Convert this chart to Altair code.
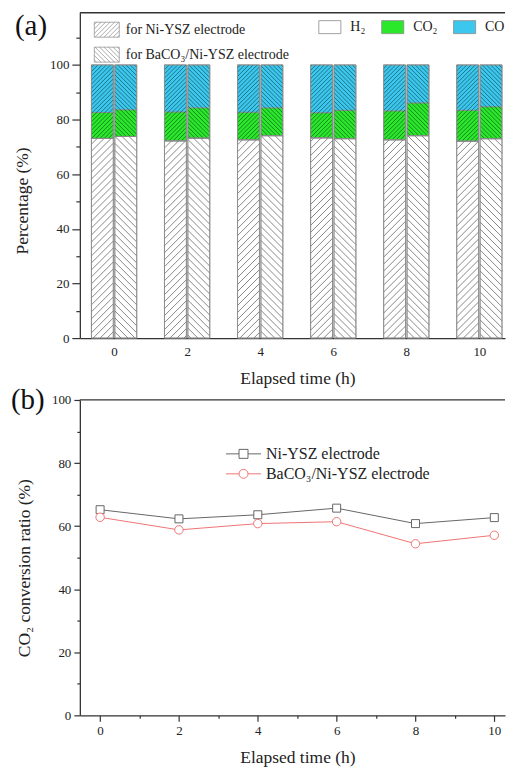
import altair as alt
import pandas as pd
import numpy as np
import math

# ---------------- data ----------------
times = [0, 2, 4, 6, 8, 10]
sides = ["for Ni-YSZ electrode", "for BaCO₃/Ni-YSZ electrode"]
components = ["H₂", "CO₂", "CO"]

ni_h2 = [73.1, 72.2, 72.6, 73.3, 72.6, 72.1]
ni_co2 = [9.5, 10.6, 10.1, 9.2, 10.6, 11.3]
ni_co = [17.4, 17.2, 17.3, 17.5, 16.8, 16.6]

ba_h2 = [73.8, 73.2, 74.1, 73.0, 74.1, 73.0]
ba_co2 = [9.8, 11.1, 10.2, 10.4, 12.0, 11.7]
ba_co = [16.4, 15.7, 15.7, 16.6, 13.9, 15.3]

series = ["Ni-YSZ electrode", "BaCO₃/Ni-YSZ electrode"]
conv_ni = [65.2, 62.3, 63.6, 65.7, 60.8, 62.7]
conv_ba = [62.8, 58.8, 60.8, 61.4, 54.4, 57.1]

# ---------------- style / layout ----------------
FONT = "Liberation Serif"
W = 426
TOP_H = 326
BOT_H = 316
XT = [-0.937, 10.702]
YT = [0, 119.1]
XB = [-0.514, 10.271]
YB = [0, 100]
BAR_W = 0.6
BAR_OFF = 0.32
GREEN = "#2BE82B"
CYAN = "#3CC8EE"
GREY_LINE = "#666666"
RED_LINE = "#EF7474"
AX = "#333333"

# ---------------- tables built from the arrays ----------------
seg_rows, box_rows = [], []
for side, off, comps in [(sides[0], -BAR_OFF, (ni_h2, ni_co2, ni_co)),
                         (sides[1], BAR_OFF, (ba_h2, ba_co2, ba_co))]:
    for i, t in enumerate(times):
        base = 0.0
        tops = []
        for comp, arr in zip(components, comps):
            v = arr[i]
            seg_rows.append(dict(time=t, side=side, comp=comp,
                                 x0=t + off - BAR_W / 2, x1=t + off + BAR_W / 2,
                                 y0=base, y1=base + v))
            base += v
            tops.append(base)
        box_rows.append(dict(side=side, part="lower", x0=t + off - BAR_W / 2,
                             x1=t + off + BAR_W / 2, y0=0.0, y1=tops[0]))
        box_rows.append(dict(side=side, part="upper", x0=t + off - BAR_W / 2,
                             x1=t + off + BAR_W / 2, y0=tops[0], y1=tops[-1]))
seg_df = pd.DataFrame(seg_rows)

conv_df = pd.DataFrame(
    [dict(series=series[0], time=t, value=v) for t, v in zip(times, conv_ni)]
    + [dict(series=series[1], time=t, value=v) for t, v in zip(times, conv_ba)]
)

# ---------------- hatch fill (decoration derived from each bar's extent) ----------------
pxx = W / (XT[1] - XT[0])
pyy = TOP_H / (YT[1] - YT[0])
PERIOD = {"lower": 7.0, "upper": 4.2}

hatch_rows = []
for b in box_rows:
    U0, U1 = b["x0"] * pxx, b["x1"] * pxx
    V0, V1 = -b["y1"] * pyy, -b["y0"] * pyy
    P = PERIOD[b["part"]]
    if b["side"] == sides[0]:      # "/" : u + v = c
        kmin, kmax = math.ceil((U0 + V0) / P), math.floor((U1 + V1) / P)
        for k in range(kmin, kmax + 1):
            c = k * P
            us, ue = max(U0, c - V1), min(U1, c - V0)
            if ue - us > 0.4:
                hatch_rows.append(dict(part=b["part"], hx0=us / pxx, hy0=-(c - us) / pyy,
                                       hx1=ue / pxx, hy1=-(c - ue) / pyy))
    else:                          # "\" : u - v = c
        kmin, kmax = math.ceil((U0 - V1) / P), math.floor((U1 - V0) / P)
        for k in range(kmin, kmax + 1):
            c = k * P
            us, ue = max(U0, c + V0), min(U1, c + V1)
            if ue - us > 0.4:
                hatch_rows.append(dict(part=b["part"], hx0=us / pxx, hy0=-(us - c) / pyy,
                                       hx1=ue / pxx, hy1=-(ue - c) / pyy))
hatch_df = pd.DataFrame(hatch_rows)
box_df = pd.DataFrame(box_rows)


def hatch_symbol(a, direction, step):
    parts = [f"M{-a:.3f},-1H{a:.3f}V1H{-a:.3f}Z"]
    for k in np.arange(-a - 1 + step * 0.5, a + 1, step):
        xs = max(-a, k - 1)
        xe = min(a, k + 1)
        if xe - xs < 0.08:
            continue
        if direction == "/":
            parts.append(f"M{xs:.3f},{k - xs:.3f}L{xe:.3f},{k - xe:.3f}")
        else:
            parts.append(f"M{xs:.3f},{xs - k:.3f}L{xe:.3f},{xe - k:.3f}")
    return "".join(parts)


# ---------------- top chart ----------------
xs_t = alt.Scale(domain=XT, nice=False, zero=False)
ys_t = alt.Scale(domain=YT, nice=False, zero=False)

x_axis_t = alt.Axis(values=times, ticks=False, labelPadding=7, format="d",
                    title="Elapsed time (h)", titleX=218, titleY=40,
                    titleBaseline="middle", titleAlign="center")
y_axis_t = alt.Axis(values=list(range(0, 120, 10)),
                    labelExpr="datum.value % 20 === 0 ? datum.label : ''",
                    tickSize={"condition": {"test": "datum.value % 20 === 0", "value": 8}, "value": 4},
                    labelPadding=3, title="Percentage (%)", titleX=-57, titleY=188,
                    titleAngle=270, titleBaseline="middle", titleAlign="center")

fill_legend = alt.Legend(orient="none", legendX=243.5, legendY=7, direction="horizontal",
                         title=None, padding=0,
                         symbolType="M-1.7,-1H1.7V1H-1.7Z", symbolSize=169,
                         symbolStrokeWidth=0.8, labelOffset=13.5, columnPadding=14,
                         labelFontSize=14, labelLimit=300)

seg = alt.Chart(seg_df).mark_bar(stroke="#8a8a8a", strokeWidth=0.8).encode(
    x=alt.X("x0:Q", scale=xs_t, axis=x_axis_t),
    x2=alt.X2("x1"),
    y=alt.Y("y0:Q", scale=ys_t, axis=y_axis_t),
    y2=alt.Y2("y1"),
    fill=alt.Fill("comp:N", scale=alt.Scale(domain=components, range=["#ffffff", GREEN, CYAN]),
                  legend=fill_legend),
)

hatch_layers = []
for part, col, sw in [("lower", "#6a6a6a", 0.8), ("upper", "rgba(0,25,25,0.6)", 0.8)]:
    hatch_layers.append(
        alt.Chart(hatch_df)
        .transform_filter(alt.datum.part == part)
        .mark_rule(color=col, strokeWidth=sw)
        .encode(
            x=alt.X("hx0:Q", scale=xs_t, axis=x_axis_t),
            x2=alt.X2("hx1"),
            y=alt.Y("hy0:Q", scale=ys_t, axis=y_axis_t),
            y2=alt.Y2("hy1"),
        )
    )

outline = alt.Chart(box_df).mark_bar(fillOpacity=0, stroke="#8a8a8a", strokeWidth=0.8).encode(
    x=alt.X("x0:Q", scale=xs_t, axis=x_axis_t),
    x2=alt.X2("x1"),
    y=alt.Y("y0:Q", scale=ys_t, axis=y_axis_t),
    y2=alt.Y2("y1"),
)

hatch_legend = alt.Legend(orient="none", legendX=19, legendY=9, direction="vertical",
                          title=None, padding=0, symbolSize=225, symbolStrokeWidth=0.7,
                          symbolStrokeColor="#888888", symbolFillColor="#ffffff",
                          symbolOpacity=1, labelOffset=11, rowPadding=7,
                          labelFontSize=14, labelLimit=300)
hatch_key = (
    alt.Chart(box_df)
    .transform_filter(alt.datum.part == "lower")
    .mark_point(opacity=0, stroke="#888888", strokeWidth=0.7)
    .encode(
        x=alt.X("x0:Q", scale=xs_t, axis=x_axis_t),
        y=alt.Y("y0:Q", scale=ys_t, axis=y_axis_t),
        shape=alt.Shape("side:N", scale=alt.Scale(domain=sides, range=[
            hatch_symbol(1.667, "/", 0.6), hatch_symbol(1.667, "\\", 0.6)]),
            legend=hatch_legend),
    )
)

frame_t = alt.Chart(alt.Data(values=[{"f": 1}])).mark_rule(color=AX, strokeWidth=1.3).encode(
    y=alt.YDatum(YT[1], scale=ys_t, axis=y_axis_t)
)
label_a = alt.Chart(alt.Data(values=[{"t": "(a)"}])).mark_text(
    align="left", baseline="middle", fontSize=29, font=FONT, color="#111111"
).encode(x=alt.value(-65), y=alt.value(13), text="t:N")

top = alt.layer(seg, *hatch_layers, outline, hatch_key, frame_t, label_a).properties(
    width=W, height=TOP_H)

# ---------------- bottom chart ----------------
xs_b = alt.Scale(domain=XB, nice=False, zero=False)
ys_b = alt.Scale(domain=YB, nice=False, zero=False)

x_axis_b = alt.Axis(values=list(range(0, 11)),
                    labelExpr="datum.value % 2 === 0 ? datum.label : ''",
                    tickSize={"condition": {"test": "datum.value % 2 === 0", "value": 6}, "value": 3},
                    labelPadding=3, title="Elapsed time (h)", titleX=218, titleY=42,
                    titleBaseline="middle", titleAlign="center")
y_axis_b = alt.Axis(values=list(range(0, 101, 10)),
                    labelExpr="datum.value % 20 === 0 ? datum.label : ''",
                    tickSize={"condition": {"test": "datum.value % 20 === 0", "value": 6}, "value": 3},
                    labelPadding=3, title="CO₂ conversion ratio (%)", titleX=-55, titleY=168,
                    titleAngle=270, titleBaseline="middle", titleAlign="center")

bottom_layers = []
for s, c in zip(series, [GREY_LINE, RED_LINE]):
    bottom_layers.append(
        alt.Chart(conv_df).transform_filter(alt.datum.series == s)
        .mark_line(color=c, strokeWidth=1)
        .encode(x=alt.X("time:Q", scale=xs_b, axis=x_axis_b),
                y=alt.Y("value:Q", scale=ys_b, axis=y_axis_b))
    )
for s, c, shp, sz in zip(series, [GREY_LINE, RED_LINE], ["square", "circle"], [64, 72]):
    bottom_layers.append(
        alt.Chart(conv_df).transform_filter(alt.datum.series == s)
        .mark_point(shape=shp, filled=True, fill="#ffffff", stroke=c, strokeWidth=1, size=sz, opacity=1)
        .encode(x=alt.X("time:Q", scale=xs_b, axis=x_axis_b),
                y=alt.Y("value:Q", scale=ys_b, axis=y_axis_b))
    )

sq_path = "M-3.5,0H-0.9M0.9,0H3.5M-0.9,-0.9H0.9V0.9H-0.9Z"
ci_path = "M-3.5,0H-0.9M0.9,0H3.5M-0.9,0A0.9,0.9,0,1,0,0.9,0A0.9,0.9,0,1,0,-0.9,0Z"
line_legend = alt.Legend(orient="none", legendX=156, legendY=46, direction="vertical",
                         title=None, padding=0, symbolSize=100, symbolStrokeWidth=1,
                         symbolFillColor="#ffffff", symbolOpacity=1, labelOffset=14.5,
                         rowPadding=4, labelFontSize=16, labelLimit=300)
line_key = alt.Chart(conv_df).mark_point(opacity=0, strokeWidth=1).encode(
    x=alt.X("time:Q", scale=xs_b, axis=x_axis_b),
    y=alt.Y("value:Q", scale=ys_b, axis=y_axis_b),
    color=alt.Color("series:N", scale=alt.Scale(domain=series, range=[GREY_LINE, RED_LINE]),
                    legend=line_legend),
    shape=alt.Shape("series:N", scale=alt.Scale(domain=series, range=[sq_path, ci_path]),
                    legend=line_legend),
)
frame_b = alt.Chart(alt.Data(values=[{"f": 1}])).mark_rule(color=AX, strokeWidth=1.3).encode(
    y=alt.YDatum(YB[1], scale=ys_b, axis=y_axis_b)
)
label_b = alt.Chart(alt.Data(values=[{"t": "(b)"}])).mark_text(
    align="left", baseline="middle", fontSize=29, font=FONT, color="#111111"
).encode(x=alt.value(-69), y=alt.value(0), text="t:N")

bottom = alt.layer(*bottom_layers, line_key, frame_b, label_b).properties(width=W, height=BOT_H)

chart = (
    alt.vconcat(top, bottom, spacing=62, bounds="flush")
    .resolve_scale(color="independent", shape="independent", fill="independent")
    .resolve_legend(color="independent", shape="independent", fill="independent")
    .properties(padding={"left": 10, "top": 10, "right": 0, "bottom": 0})
    .configure(font=FONT)
    .configure_view(stroke="transparent")
    .configure_axis(domainColor=AX, domainWidth=1.3, tickColor=AX, tickWidth=1.2,
                    labelFont=FONT, labelFontSize=13, labelColor="#222222",
                    titleFont=FONT, titleFontSize=17.5, titleFontWeight="normal",
                    titleColor="#222222", grid=False, labelOverlap=False)
    .configure_legend(labelFont=FONT, labelColor="#222222")
)

chart.save("out.html", embed_options={"renderer": "svg", "actions": False})
